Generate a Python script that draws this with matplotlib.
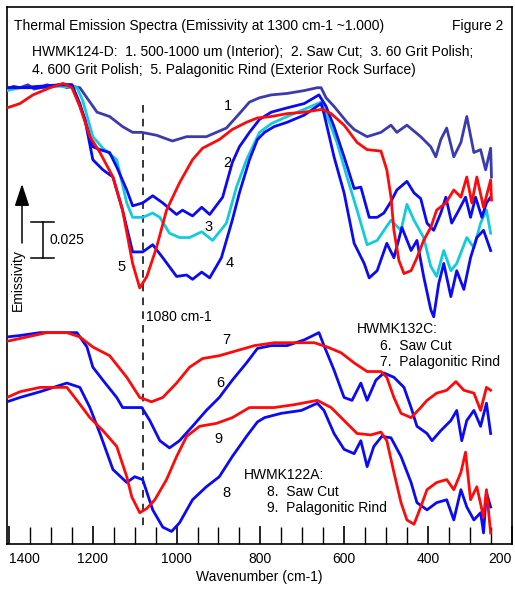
import matplotlib
matplotlib.use("Agg")
import matplotlib.pyplot as plt
from matplotlib.ticker import MultipleLocator

plt.rcParams['font.family'] = ['Liberation Sans', 'DejaVu Sans']

# ---------------- data (wavenumber cm-1, offset emissivity) ----------------
w1 = [1405, 1390, 1374, 1355, 1340, 1326, 1310, 1295, 1279, 1262, 1250, 1231, 1219, 1190, 1160, 1129, 1105,
      1083, 1048, 1010, 976, 929, 881, 850, 826, 802, 774, 736, 695, 664, 655, 643, 624, 593, 576, 545,
      512, 488, 474, 450, 417, 393, 381, 369, 355, 338, 321, 307, 290, 274, 262, 250, 248]
e1 = [0.942, 0.945, 0.944, 0.946, 0.943, 0.944, 0.946, 0.945, 0.946, 0.944, 0.945, 0.944, 0.939, 0.927, 0.924,
      0.917, 0.913, 0.913, 0.911, 0.907, 0.910, 0.910, 0.916, 0.926, 0.934, 0.937, 0.939, 0.940, 0.942, 0.944,
      0.944, 0.937, 0.931, 0.920, 0.915, 0.910, 0.913, 0.918, 0.913, 0.918, 0.910, 0.903, 0.896, 0.908, 0.916,
      0.896, 0.906, 0.924, 0.899, 0.901, 0.887, 0.902, 0.882]

w2 = [1405, 1374, 1326, 1279, 1250, 1231, 1214, 1200, 1183, 1160, 1143, 1119, 1105, 1081, 1057, 1033, 1000,
      986, 962, 940, 921, 890, 867, 850, 826, 802, 774, 736, 695, 660, 643, 624, 600, 576, 560, 540, 521,
      505, 488, 474, 450, 433, 417, 402, 386, 369, 357, 343, 326, 310, 298, 286, 271, 260, 250]
e2 = [0.944, 0.944, 0.944, 0.946, 0.946, 0.933, 0.917, 0.903, 0.901, 0.899, 0.889, 0.873, 0.862, 0.864, 0.869,
      0.864, 0.856, 0.859, 0.855, 0.861, 0.856, 0.868, 0.892, 0.903, 0.913, 0.922, 0.927, 0.930, 0.933, 0.939,
      0.931, 0.917, 0.896, 0.874, 0.875, 0.854, 0.854, 0.857, 0.865, 0.873, 0.879, 0.871, 0.867, 0.850, 0.845,
      0.857, 0.868, 0.850, 0.859, 0.868, 0.854, 0.868, 0.854, 0.864, 0.868]

w3 = [1405, 1374, 1326, 1279, 1238, 1224, 1200, 1176, 1143, 1119, 1105, 1081, 1057, 1040, 1017, 993, 969,
      940, 914, 881, 857, 833, 802, 774, 736, 695, 655, 640, 617, 593, 569, 545, 521, 500, 488, 464, 450,
      433, 410, 393, 379, 362, 345, 331, 307, 290, 274, 260, 250]
e3 = [0.942, 0.944, 0.944, 0.945, 0.944, 0.935, 0.910, 0.902, 0.894, 0.864, 0.854, 0.854, 0.857, 0.854, 0.843,
      0.840, 0.840, 0.844, 0.838, 0.850, 0.875, 0.894, 0.913, 0.919, 0.924, 0.929, 0.934, 0.924, 0.906, 0.882,
      0.859, 0.835, 0.838, 0.847, 0.852, 0.845, 0.863, 0.852, 0.840, 0.820, 0.813, 0.831, 0.817, 0.822, 0.840,
      0.833, 0.850, 0.859, 0.843]

w4 = [1405, 1374, 1326, 1279, 1250, 1219, 1200, 1176, 1152, 1129, 1105, 1081, 1057, 1033, 1000, 976, 962,
      940, 921, 893, 867, 850, 826, 807, 790, 767, 736, 695, 655, 648, 624, 600, 576, 552, 540, 521, 498,
      481, 462, 440, 426, 410, 393, 386, 374, 362, 345, 331, 314, 298, 283, 267, 250]
e4 = [0.944, 0.944, 0.945, 0.946, 0.946, 0.922, 0.894, 0.887, 0.882, 0.859, 0.830, 0.830, 0.835, 0.826, 0.813,
      0.814, 0.811, 0.816, 0.812, 0.826, 0.852, 0.871, 0.894, 0.908, 0.913, 0.917, 0.920, 0.925, 0.933, 0.926,
      0.896, 0.871, 0.836, 0.822, 0.812, 0.817, 0.836, 0.826, 0.847, 0.831, 0.838, 0.813, 0.790, 0.785, 0.808,
      0.822, 0.799, 0.817, 0.804, 0.826, 0.840, 0.845, 0.831]

w5 = [1405, 1374, 1343, 1302, 1271, 1250, 1231, 1207, 1183, 1152, 1129, 1105, 1088, 1071, 1048, 1024, 993,
      962, 938, 898, 867, 833, 807, 774, 736, 695, 652, 631, 600, 569, 545, 512, 498, 488, 481, 469, 457,
      440, 426, 410, 393, 379, 357, 338, 321, 307, 295, 283, 267, 250, 248]
e5 = [0.930, 0.933, 0.939, 0.944, 0.947, 0.944, 0.931, 0.910, 0.899, 0.882, 0.859, 0.822, 0.805, 0.813, 0.833,
      0.859, 0.878, 0.894, 0.902, 0.908, 0.915, 0.920, 0.923, 0.924, 0.926, 0.927, 0.929, 0.926, 0.918, 0.906,
      0.901, 0.900, 0.887, 0.868, 0.845, 0.824, 0.815, 0.817, 0.826, 0.838, 0.847, 0.859, 0.864, 0.873, 0.868,
      0.882, 0.864, 0.882, 0.861, 0.880, 0.866]

w6 = [1405, 1374, 1326, 1271, 1238, 1214, 1200, 1176, 1143, 1129, 1105, 1083, 1064, 1040, 1017, 993, 962,
      929, 898, 867, 833, 807, 774, 736, 695, 660, 648, 624, 600, 581, 560, 545, 524, 505, 481, 457, 440,
      426, 402, 390, 369, 345, 331, 319, 307, 290, 274, 260, 250]
e6 = [0.771, 0.772, 0.774, 0.774, 0.774, 0.764, 0.750, 0.741, 0.729, 0.722, 0.722, 0.722, 0.713, 0.699, 0.694,
      0.699, 0.709, 0.720, 0.729, 0.741, 0.753, 0.763, 0.765, 0.765, 0.769, 0.774, 0.765, 0.748, 0.729, 0.727,
      0.739, 0.727, 0.741, 0.746, 0.743, 0.736, 0.722, 0.709, 0.704, 0.699, 0.706, 0.713, 0.720, 0.699, 0.713,
      0.720, 0.709, 0.725, 0.704]

w7 = [1405, 1357, 1310, 1262, 1231, 1200, 1160, 1119, 1088, 1060, 1033, 1000, 969, 938, 898, 850, 814, 767,
      719, 671, 640, 607, 576, 545, 512, 498, 481, 464, 440, 417, 402, 379, 355, 333, 314, 290, 274, 260, 250]
e7 = [0.768, 0.771, 0.774, 0.774, 0.771, 0.764, 0.758, 0.743, 0.729, 0.726, 0.729, 0.739, 0.750, 0.756, 0.758,
      0.762, 0.765, 0.767, 0.767, 0.767, 0.764, 0.760, 0.753, 0.747, 0.747, 0.743, 0.729, 0.718, 0.715, 0.722,
      0.727, 0.732, 0.734, 0.740, 0.734, 0.732, 0.720, 0.736, 0.734]

w8 = [1405, 1374, 1326, 1262, 1231, 1207, 1183, 1152, 1119, 1100, 1081, 1057, 1033, 1012, 993, 962, 929, 898,
      867, 833, 807, 790, 750, 702, 664, 648, 624, 600, 576, 560, 545, 529, 510, 488, 464, 440, 426, 402,
      379, 355, 338, 321, 307, 290, 274, 267, 260, 250]
e8 = [0.726, 0.729, 0.733, 0.739, 0.736, 0.722, 0.704, 0.679, 0.670, 0.674, 0.672, 0.651, 0.639, 0.636, 0.642,
      0.658, 0.667, 0.674, 0.688, 0.702, 0.712, 0.715, 0.718, 0.720, 0.725, 0.720, 0.704, 0.693, 0.690, 0.699,
      0.681, 0.695, 0.702, 0.701, 0.688, 0.670, 0.656, 0.651, 0.656, 0.658, 0.644, 0.665, 0.653, 0.644, 0.649,
      0.635, 0.663, 0.653]

w9 = [1405, 1374, 1326, 1262, 1238, 1207, 1176, 1143, 1119, 1107, 1088, 1071, 1052, 1024, 1000, 976, 945, 905,
      867, 826, 807, 767, 719, 664, 631, 600, 569, 536, 512, 498, 481, 464, 450, 433, 417, 402, 379, 355,
      338, 321, 310, 298, 283, 267, 260, 250]
e9 = [0.729, 0.733, 0.736, 0.736, 0.727, 0.715, 0.706, 0.695, 0.674, 0.660, 0.649, 0.652, 0.658, 0.672, 0.688,
      0.702, 0.709, 0.711, 0.715, 0.722, 0.722, 0.722, 0.724, 0.727, 0.722, 0.713, 0.704, 0.703, 0.705, 0.699,
      0.677, 0.656, 0.644, 0.641, 0.653, 0.665, 0.670, 0.672, 0.665, 0.677, 0.691, 0.658, 0.667, 0.646, 0.665,
      0.635]

series = [
    (w1, e1, '#3b3bb0'), (w3, e3, '#11ccdd'), (w2, e2, '#0a0af5'), (w4, e4, '#0a0af5'),
    (w5, e5, '#ff0a0a'), (w6, e6, '#0a0af5'), (w7, e7, '#ff0a0a'), (w8, e8, '#0a0af5'), (w9, e9, '#ff0a0a'),
]

curve_labels = ['1', '2', '3', '4', '5', '6', '7', '8', '9']
label_pos_px = [(228, 106), (227, 163), (209, 227), (230, 263), (122, 267),
                (220, 383), (226, 340), (226, 493), (218, 439)]

x_ticks = [1400, 1200, 1000, 800, 600, 400, 200]
scale_bar = 0.025
marker_wn = 1080

W, H = 515, 590
fig = plt.figure(figsize=(W / 100, H / 100), dpi=100)
ax = fig.add_axes([7 / W, 1 - 544 / H, 505 / W, 537 / H])

for w, e, c in series:
    ax.plot(w, e, color=c, lw=2.0, solid_joinstyle='round', zorder=3)

ax.set_xlim(1405, 199)
ax.set_ylim(0.6273, 1.0)
ax.set_yticks([])
ax.xaxis.set_major_locator(MultipleLocator(200))
ax.xaxis.set_minor_locator(MultipleLocator(50))
ax.set_xticks(x_ticks)
ax.set_xticklabels([str(t) for t in x_ticks])
ax.tick_params(axis='x', which='both', direction='in', length=12, width=1.0, labelsize=10, pad=6)
ax.tick_params(axis='x', which='major', length=13, width=1.2)
tl = ax.get_xticklabels()
tl[0].set_horizontalalignment('left')
tl[-1].set_horizontalalignment('right')
for s in ax.spines.values():
    s.set_linewidth(1.2)
ax.set_xlabel('Wavenumber (cm-1)', fontsize=10, labelpad=3)

# dashed marker at 1080 cm-1
ax.plot([marker_wn, marker_wn], [0.932, 0.637], color='black', lw=1.1, ls=(0, (5, 4)), zorder=2)

# scale bar
ax.plot([1319, 1319], [0.826, 0.826 + scale_bar], color='black', lw=1.1)
ax.plot([1348, 1293], [0.826, 0.826], color='black', lw=1.1)
ax.plot([1348, 1293], [0.826 + scale_bar, 0.826 + scale_bar], color='black', lw=1.1)


def ftext(x, y, s, **kw):
    fig.text(x / W, 1 - y / H, s, **kw)


ftext(50, 240, '0.025', fontsize=10, va='center', ha='left')
ftext(14, 26, 'Thermal Emission Spectra (Emissivity at 1300 cm-1 ~1.000)', fontsize=10, va='center')
ftext(503, 26, 'Figure 2', fontsize=10, va='center', ha='right')
ftext(32, 52, 'HWMK124-D:  1. 500-1000 um (Interior);  2. Saw Cut;  3. 60 Grit Polish;', fontsize=10, va='center')
ftext(32, 70, '4. 600 Grit Polish;  5. Palagonitic Rind (Exterior Rock Surface)', fontsize=10, va='center')
ftext(18, 280, 'Emissivity', fontsize=10, va='center', ha='center', rotation=90)
ftext(146, 317, '1080 cm-1', fontsize=10, va='center')
ftext(357, 329, 'HWMK132C:', fontsize=10, va='center')
ftext(380, 346, '6.  Saw Cut', fontsize=10, va='center')
ftext(380, 362, '7.  Palagonitic Rind', fontsize=10, va='center')
ftext(244, 475, 'HWMK122A:', fontsize=10, va='center')
ftext(267, 492, '8.  Saw Cut', fontsize=10, va='center')
ftext(267, 508, '9.  Palagonitic Rind', fontsize=10, va='center')
for lab, (x, y) in zip(curve_labels, label_pos_px):
    ftext(x, y, lab, fontsize=10.5, va='center', ha='center')

# arrow next to the Emissivity label
fig.add_artist(matplotlib.patches.FancyArrowPatch(
    (22 / W, 1 - 243 / H), (22 / W, 1 - 184 / H), transform=fig.transFigure,
    arrowstyle='-|>,head_length=0.9,head_width=0.3', color='black', lw=1.1, mutation_scale=15,
    shrinkA=0, shrinkB=0))

fig.savefig('out.png', dpi=100)
